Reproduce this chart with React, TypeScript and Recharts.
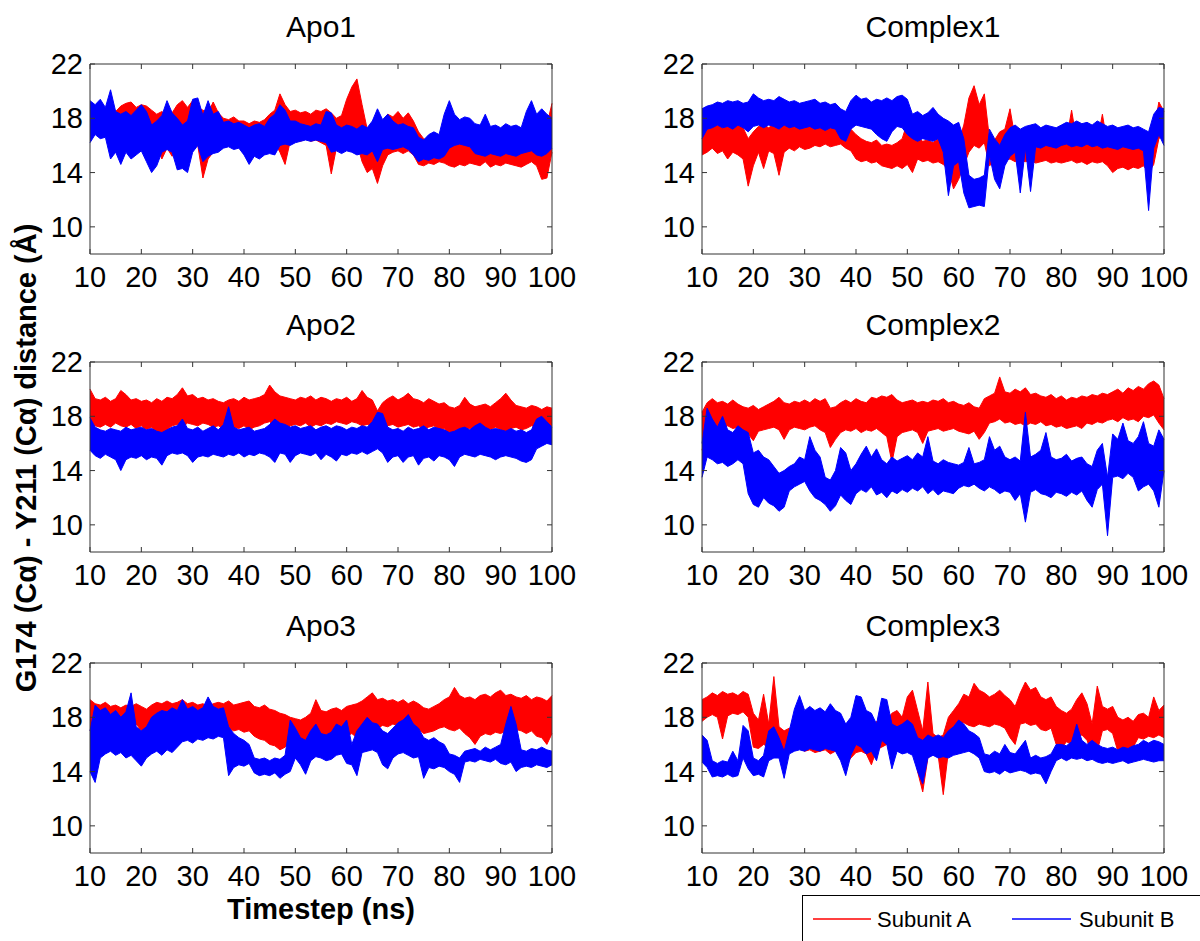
import React from 'react';
import { ComposedChart, Area, XAxis, YAxis, ReferenceArea } from 'recharts';

const RED = '#ff0000';
const BLUE = '#0000ff';
const AXIS = '#333333';
const FONT = '"Liberation Sans", Arial, sans-serif';

const timesteps = [
  10, 11, 12, 13, 14, 15, 16, 17, 18, 19, 20, 21, 22, 23, 24, 25, 26, 27, 28, 29,
  30, 31, 32, 33, 34, 35, 36, 37, 38, 39, 40, 41, 42, 43, 44, 45, 46, 47, 48, 49,
  50, 51, 52, 53, 54, 55, 56, 57, 58, 59, 60, 61, 62, 63, 64, 65, 66, 67, 68, 69,
  70, 71, 72, 73, 74, 75, 76, 77, 78, 79, 80, 81, 82, 83, 84, 85, 86, 87, 88, 89,
  90, 91, 92, 93, 94, 95, 96, 97, 98, 99, 100,
];
const xTicks = [10, 20, 30, 40, 50, 60, 70, 80, 90, 100];
const yTicks = [10, 14, 18, 22];

// low / high edge of each trace per ns
// Apo1
const apo1ALo = [
  16.8, 17.0, 16.6, 16.8, 16.3, 16.8, 16.5, 16.9, 16.7, 16.8,
  16.5, 16.3, 16.0, 16.2, 15.0, 15.8, 15.2, 16.0, 16.5, 16.3,
  16.2, 16.0, 13.6, 15.0, 15.5, 15.8, 15.9, 16.0, 15.8, 16.0,
  16.1, 16.0, 16.2, 16.0, 16.2, 16.0, 16.2, 15.5, 14.6, 16.3,
  16.4, 16.3, 16.5, 16.3, 16.4, 16.2, 16.0, 13.9, 15.8, 16.0,
  16.3, 16.5, 16.2, 14.8, 14.0, 14.3, 13.2, 14.5, 15.3, 15.5,
  15.6, 15.4, 15.6, 15.3, 14.6, 14.5, 14.7, 14.6, 14.8, 14.7,
  14.5, 14.4, 14.6, 14.5, 14.7, 14.6, 14.5, 14.8, 14.4, 14.6,
  14.5, 14.7, 14.6, 14.5, 14.4, 14.6, 14.8, 14.5, 13.5, 13.6, 15.5,
];
const apo1AHi = [
  19.0, 18.8, 18.9, 18.6, 18.8, 18.5, 18.9, 19.1, 19.2, 18.8,
  19.0, 18.9, 18.6, 18.3, 18.5, 18.2, 18.4, 19.0, 19.3, 18.8,
  19.3, 18.8, 18.6, 18.4, 19.2, 18.4, 18.0, 17.9, 18.1, 17.8,
  17.8, 17.6, 17.8, 17.7, 17.9, 18.3, 18.6, 19.8, 19.0, 18.5,
  18.6, 18.4, 18.5, 18.3, 18.6, 18.5, 18.7, 18.4, 18.0, 18.2,
  19.4, 20.3, 20.9, 19.0, 17.2, 17.0, 17.3, 17.8, 18.3, 18.1,
  18.5, 18.0, 18.4, 17.8, 17.0, 16.5, 16.3, 16.2, 16.4, 16.2,
  16.5, 16.8, 16.4, 16.2, 16.0, 16.2, 16.0, 16.1, 15.9, 16.2,
  16.0, 16.3, 16.0, 16.2, 16.5, 17.0, 18.5, 18.0, 17.2, 17.5, 19.1,
];
const apo1BLo = [
  16.2, 16.8, 16.5, 16.6, 15.0, 15.5, 14.6, 15.5, 15.0, 15.3,
  15.6, 14.8, 14.0, 14.5, 15.5, 15.7, 15.5, 14.2, 14.3, 14.0,
  15.5, 16.0, 14.8, 15.2, 15.4, 15.5, 15.8, 15.9, 15.7, 15.8,
  15.3, 14.6, 15.2, 15.0, 15.3, 15.4, 15.3, 16.0, 16.1, 16.0,
  16.2, 16.3, 16.4, 16.3, 16.4, 16.3, 16.2, 15.5, 15.6, 15.4,
  15.6, 15.5, 15.3, 15.4, 15.3, 15.6, 14.8, 15.7, 15.8, 15.7,
  15.8, 15.9, 15.7, 15.3, 14.8, 15.0, 14.9, 15.1, 15.0, 15.2,
  15.8, 16.0, 16.1, 16.0, 15.9, 15.4, 15.3, 15.2, 15.4, 15.3,
  15.2, 15.4, 15.3, 15.2, 15.4, 15.5, 15.6, 15.3, 15.2, 15.4, 15.8,
];
const apo1BHi = [
  19.3, 19.0, 19.4, 18.8, 20.1, 18.5, 18.3, 18.5, 18.2, 18.6,
  19.0, 18.5, 17.5, 17.8, 18.2, 19.3, 18.4, 18.0, 17.5, 17.8,
  19.4, 19.5, 18.2, 19.3, 18.3, 18.5, 17.7, 17.8, 17.6, 17.7,
  17.5, 17.3, 17.5, 17.6, 17.4, 18.0, 18.3, 19.0, 18.6, 17.8,
  17.8, 17.6, 17.5, 17.4, 17.6, 17.5, 18.5, 18.4, 17.5, 17.3,
  17.5, 17.4, 17.2, 17.5, 17.3, 17.8, 18.7, 17.9, 18.3, 17.8,
  17.5, 17.6, 17.4, 17.3, 16.6, 16.4, 16.8, 17.0, 16.8, 18.3,
  19.3, 18.3, 17.9, 18.1, 18.0, 17.6, 17.5, 18.3, 17.4, 17.5,
  17.3, 17.6, 17.4, 17.5, 17.3, 18.5, 19.3, 18.3, 18.7, 18.3, 18.0,
];

// Complex1
const cx1ALo = [
  15.3, 15.5, 15.8, 15.4, 15.6, 15.0, 15.5, 15.3, 15.0, 13.0,
  14.5, 15.5, 14.3, 15.6, 15.4, 13.8, 15.5, 15.8, 15.6, 15.9,
  15.7, 15.8, 16.0, 15.9, 16.1, 15.9, 16.0, 16.1, 15.8, 15.6,
  15.0, 14.8, 14.9, 14.7, 14.8, 14.5, 14.4, 14.3, 14.5, 14.3,
  14.6, 14.0, 15.0, 14.8, 14.9, 14.7, 14.8, 14.6, 14.2, 12.8,
  13.5, 14.5, 15.5, 16.0, 15.8, 16.2, 14.5, 14.8, 15.0, 14.9,
  15.0, 14.8, 14.9, 14.8, 14.9, 14.7, 14.8, 14.9, 14.7, 14.8,
  14.7, 14.8, 14.9, 14.7, 14.8, 14.6, 14.8, 14.7, 14.8, 14.5,
  14.0, 14.3, 14.4, 14.2, 14.4, 14.3, 14.5, 14.0, 14.6, 16.5, 16.8,
];
const cx1AHi = [
  18.5, 18.7, 17.8, 17.5, 17.3, 17.6, 17.4, 17.5, 17.3, 16.5,
  17.0, 17.4, 17.5, 17.3, 17.6, 17.2, 17.5, 17.6, 17.5, 17.7,
  17.6, 17.5, 17.8, 17.6, 17.8, 17.5, 17.7, 17.5, 17.3, 17.2,
  16.8, 16.5, 16.3, 16.2, 16.4, 16.0, 16.1, 16.0, 16.2, 16.5,
  17.7, 17.0, 16.6, 16.3, 16.4, 16.2, 16.5, 16.3, 16.2, 15.8,
  16.3, 17.5, 19.5, 20.4, 19.0, 19.8, 16.5, 16.4, 17.0, 17.2,
  18.7, 16.5, 16.2, 16.0, 16.1, 16.0, 15.9, 16.1, 16.0, 15.9,
  16.2, 16.4, 18.6, 16.3, 16.0, 16.2, 16.0, 16.3, 18.3, 16.0,
  16.1, 15.9, 16.0, 16.2, 15.9, 16.0, 16.1, 16.2, 17.0, 19.2, 18.5,
];
const cx1BLo = [
  16.5, 17.2, 17.3, 17.5, 17.3, 17.4, 17.2, 17.5, 17.3, 17.0,
  17.4, 17.5, 17.3, 17.5, 17.4, 17.2, 17.5, 17.3, 17.4, 17.2,
  17.3, 17.4, 17.2, 17.3, 17.1, 17.3, 17.2, 16.5, 16.3, 17.2,
  17.5, 17.4, 17.3, 17.2, 16.8, 16.5, 16.3, 17.0, 17.4, 17.3,
  16.8, 16.5, 16.3, 16.5, 16.4, 16.3, 16.5, 15.5, 12.3, 14.5,
  14.8, 12.5, 11.4, 11.5, 11.6, 11.5, 15.3, 13.5, 12.8, 14.5,
  15.2, 15.5, 12.5, 15.8, 12.6, 15.9, 15.8, 16.0, 15.9, 15.8,
  16.0, 16.1, 15.9, 16.0, 15.9, 16.1, 15.9, 16.0, 15.8, 15.9,
  15.8, 15.7, 15.9, 15.8, 15.7, 15.8, 15.6, 11.2, 15.8, 16.8, 16.0,
];
const cx1BHi = [
  18.7, 18.9, 19.0, 19.2, 19.1, 19.3, 19.2, 19.3, 19.1, 19.2,
  19.8, 19.5, 19.3, 19.4, 19.3, 19.6, 19.4, 19.2, 19.3, 19.1,
  19.2, 19.3, 19.4, 19.1, 19.2, 19.0, 19.1, 18.7, 18.5, 19.3,
  19.7, 19.4, 19.5, 19.2, 19.4, 19.3, 19.5, 19.3, 19.6, 19.7,
  19.4, 18.3, 18.5, 18.2, 18.4, 18.8, 18.3, 18.0, 17.8, 17.5,
  17.7, 16.5, 13.8, 13.5, 13.6, 13.8, 17.2, 16.5, 16.0, 16.8,
  17.3, 17.5, 17.2, 17.4, 17.5, 17.6, 17.3, 17.5, 17.4, 17.3,
  17.5, 17.7, 17.6, 17.8, 17.6, 17.7, 17.5, 17.8, 17.6, 17.4,
  17.5, 17.3, 17.4, 17.5, 17.3, 17.4, 17.2, 17.0, 18.3, 18.8, 18.7,
];

// Apo2
const apo2ALo = [
  17.0, 17.3, 17.2, 17.4, 17.2, 17.5, 17.3, 17.2, 17.4, 17.1,
  17.3, 17.0, 17.2, 16.8, 16.3, 17.0, 17.3, 17.4, 17.2, 17.5,
  17.4, 17.3, 17.5, 17.4, 17.2, 17.3, 17.1, 17.0, 17.2, 17.1,
  17.3, 17.0, 17.2, 17.3, 17.5, 17.6, 17.3, 17.2, 17.0, 17.3,
  17.4, 17.3, 17.5, 17.2, 17.4, 17.3, 17.5, 17.4, 17.6, 17.5,
  17.4, 17.6, 17.5, 17.3, 17.4, 17.3, 17.0, 16.8, 17.3, 17.4,
  17.2, 17.3, 17.4, 17.2, 17.3, 17.1, 17.2, 17.3, 17.0, 17.1,
  16.6, 16.2, 16.8, 17.0, 17.1, 17.0, 16.9, 17.1, 17.0, 17.2,
  17.0, 16.8, 17.1, 17.2, 17.0, 17.1, 17.3, 17.2, 17.3, 17.2, 17.3,
];
const apo2AHi = [
  20.0, 19.3, 19.2, 19.4, 19.1, 19.3, 19.9, 19.6, 19.2, 19.3,
  19.1, 19.2, 19.0, 19.3, 19.1, 19.4, 19.3, 19.6, 20.1, 19.5,
  19.6, 19.3, 19.4, 19.2, 19.3, 19.1, 19.0, 19.2, 19.3, 19.1,
  19.4, 19.2, 19.3, 19.4, 19.6, 20.3, 19.8, 19.5, 19.4, 19.3,
  19.2, 19.4, 19.3, 19.5, 19.2, 19.4, 19.3, 19.1, 19.3, 19.2,
  19.4, 19.1, 19.3, 19.9, 19.4, 19.2, 18.4, 19.0, 19.3, 19.5,
  19.2, 19.4, 19.7, 19.3, 19.2, 19.0, 19.3, 19.1, 18.9, 19.0,
  18.7, 18.6, 18.8, 19.4, 18.9, 18.7, 18.8, 18.9, 18.7, 19.0,
  19.3, 19.7, 19.2, 18.8, 18.7, 18.6, 18.8, 18.7, 18.5, 18.7, 18.6,
];
const apo2BLo = [
  15.5, 15.1, 14.9, 15.2, 15.0, 14.8, 14.0, 14.8, 15.0, 14.9,
  15.1, 14.8, 15.0, 14.9, 14.4, 15.1, 15.3, 15.2, 15.3, 15.1,
  14.6, 15.0, 15.1, 15.0, 15.2, 15.1, 15.0, 15.2, 15.1, 15.3,
  15.0, 15.2, 15.1, 15.3, 15.2, 15.0, 14.6, 15.3, 15.2, 14.6,
  15.1, 15.3, 15.2, 15.1, 15.3, 14.8, 15.2, 15.0, 14.7, 15.2,
  15.1, 15.3, 15.2, 15.4, 15.2, 15.4, 15.6, 15.3, 14.6, 15.0,
  15.1, 14.6, 15.0, 15.1, 14.4, 14.9, 15.0, 14.7, 15.1, 15.0,
  14.8, 14.3, 15.0, 15.2, 15.1, 15.0, 15.2, 15.1, 15.0, 14.8,
  15.0, 15.1, 15.0, 14.9, 14.7, 14.6, 14.8, 15.6, 15.8, 16.0, 15.9,
];
const apo2BHi = [
  17.9, 17.2, 17.0, 16.9, 17.1, 17.0, 16.9, 17.2, 17.0, 17.1,
  17.2, 17.0, 17.1, 16.9, 16.8, 17.0, 17.2, 17.3, 17.8, 17.1,
  17.0, 17.2, 16.9, 17.1, 17.3, 17.0, 17.4, 18.7, 17.2, 17.0,
  17.1, 17.2, 16.9, 17.0, 17.1, 17.4, 17.8, 17.5, 17.4, 17.2,
  17.3, 17.1, 17.2, 17.3, 17.0, 17.2, 17.3, 17.1, 17.3, 17.2,
  17.0, 17.2, 17.1, 17.3, 17.2, 17.6, 18.3, 18.2, 17.2, 17.0,
  17.1, 16.9, 17.2, 17.0, 17.1, 17.3, 17.0, 17.2, 17.1, 17.0,
  16.8, 16.9, 17.1, 17.2, 17.0, 17.3, 17.5, 17.2, 17.0, 17.1,
  17.0, 16.9, 17.1, 16.9, 17.0, 16.8, 17.0, 17.8, 18.0, 17.6, 17.2,
];

// Complex2
const cx2ALo = [
  15.5, 17.0, 17.3, 17.2, 17.0, 17.3, 17.1, 17.2, 16.8, 16.7,
  16.2, 16.9, 17.0, 17.1, 17.2, 17.0, 16.3, 17.0, 17.2, 17.1,
  17.0, 17.2, 17.3, 17.0, 16.8, 15.7, 16.3, 16.8, 17.0, 16.9,
  17.1, 16.8, 17.0, 16.9, 17.1, 16.8, 16.5, 14.6, 16.5, 16.8,
  16.9, 17.0, 16.8, 16.0, 16.9, 17.0, 17.1, 16.9, 17.0, 17.1,
  16.9, 16.8, 16.7, 16.9, 16.3, 16.8, 17.5, 17.6, 17.8, 17.5,
  17.6, 17.4, 17.5, 17.3, 17.5, 17.4, 17.6, 17.3, 17.4, 17.2,
  17.3, 17.1, 17.2, 17.3, 17.1, 17.5, 17.4, 17.6, 17.5, 17.7,
  17.8, 17.6, 17.9, 17.7, 17.8, 17.6, 18.0, 17.9, 18.1, 17.5, 17.0,
];
const cx2AHi = [
  18.3, 19.0, 19.3, 19.0, 19.1, 18.9, 19.2, 18.9, 18.7, 18.6,
  18.8, 18.5, 18.7, 18.9, 19.1, 19.4, 19.0, 18.9, 19.1, 19.0,
  19.2, 19.0, 19.3, 19.1, 19.3, 18.6, 18.7, 19.0, 19.2, 19.0,
  19.3, 19.1, 19.0, 19.4, 19.3, 19.5, 19.4, 19.6, 19.2, 19.0,
  19.1, 19.2, 19.0, 19.1, 19.0, 19.2, 19.1, 19.3, 19.0, 19.1,
  18.9, 18.8, 19.0, 18.7, 18.6, 19.3, 19.5, 19.7, 20.9, 19.8,
  19.7, 20.0, 19.8, 20.1, 19.6, 19.7, 19.5, 19.4, 19.6, 19.3,
  19.5, 19.2, 19.4, 19.3, 19.5, 19.4, 19.6, 19.5, 19.7, 19.6,
  19.8, 20.0, 19.7, 20.1, 19.9, 20.2, 20.0, 20.4, 20.6, 20.3, 19.3,
];
const cx2BLo = [
  13.5, 15.0, 14.8, 14.5, 14.6, 14.3, 14.5, 14.8, 14.5, 12.3,
  11.5, 11.3, 12.0, 11.6, 11.4, 11.0, 11.3, 12.5, 12.8, 13.0,
  13.2, 12.5, 12.0, 11.8, 11.5, 11.0, 11.4, 12.2, 11.8, 11.5,
  12.3, 12.6, 12.4, 12.8, 12.2, 12.4, 12.0, 12.5, 12.3, 12.6,
  12.4, 12.7, 12.5, 12.8, 12.3, 12.6, 12.2, 12.5, 12.4, 12.3,
  12.7, 12.9, 12.8, 13.0, 12.7, 12.5, 12.8, 12.6, 12.3, 12.5,
  12.4, 11.8, 12.3, 10.2, 12.4, 12.6, 12.3, 12.2, 12.0, 12.4,
  12.3, 12.1, 12.4, 12.2, 12.5, 11.8, 11.3, 12.6, 13.0, 9.2,
  13.5, 13.6, 13.4, 13.8, 13.5, 12.5, 12.8, 13.0, 12.5, 11.3, 14.0,
];
const cx2BHi = [
  16.0, 18.6, 17.8, 17.2, 18.0, 17.0, 16.8, 17.3, 17.0, 16.8,
  15.3, 15.5, 15.0, 14.8, 14.3, 13.8, 14.0, 14.3, 14.5, 15.0,
  14.8, 16.5, 15.5, 15.0, 13.5, 13.3, 14.0, 15.7, 15.3, 14.0,
  14.5, 15.2, 15.8, 15.0, 15.6, 14.8, 14.5, 15.0, 14.7, 14.9,
  15.1, 14.8, 15.3, 15.0, 16.5, 14.7, 14.5, 14.8, 14.6, 14.5,
  14.4, 14.6, 15.7, 14.5, 14.6, 14.8, 16.5, 15.5, 15.8, 15.0,
  14.8, 15.0, 14.7, 18.3, 15.0, 15.2, 15.5, 16.8, 15.0, 14.8,
  14.9, 15.2, 14.7, 14.9, 15.0, 14.5, 14.3, 15.5, 16.0, 13.5,
  16.7, 16.3, 17.5, 16.2, 16.0, 16.5, 17.6, 16.0, 15.8, 17.0, 16.3,
];

// Apo3
const apo3ALo = [
  17.0, 17.5, 17.3, 17.6, 17.4, 17.6, 17.5, 17.7, 17.3, 17.5,
  17.0, 16.0, 16.8, 17.5, 17.7, 17.6, 17.8, 17.7, 17.9, 17.8,
  17.7, 17.9, 17.8, 17.7, 17.9, 17.8, 17.6, 17.2, 17.0, 17.1,
  16.9, 17.0, 16.6, 16.4, 16.3, 16.0, 15.9, 15.6, 15.8, 16.2,
  16.0, 16.3, 16.0, 16.2, 16.1, 16.5, 16.4, 16.6, 16.5, 16.7,
  16.6, 16.8, 16.5, 15.8, 16.9, 17.3, 17.2, 17.4, 17.3, 17.5,
  17.4, 17.2, 16.5, 17.3, 17.1, 16.8, 16.9, 17.0, 17.2, 17.3,
  17.1, 17.0, 17.2, 16.8, 16.5, 16.0, 16.6, 16.8, 16.7, 16.9,
  16.8, 17.0, 16.7, 17.1, 17.0, 16.8, 17.0, 16.6, 16.5, 16.0, 16.8,
];
const apo3AHi = [
  19.3, 19.0, 18.9, 19.1, 18.8, 18.9, 18.7, 18.9, 18.8, 19.0,
  18.8, 18.6, 18.9, 19.1, 19.0, 19.2, 19.0, 19.1, 19.3, 19.0,
  19.1, 18.9, 19.0, 18.8, 19.0, 19.1, 19.0, 19.2, 18.9, 19.0,
  19.1, 19.2, 18.8, 18.7, 18.9, 18.6, 18.5, 18.3, 18.2, 18.0,
  17.9, 17.8, 18.0, 18.3, 19.3, 18.5, 18.4, 18.6, 18.7, 18.5,
  18.8, 18.9, 19.0, 19.2, 19.5, 19.8, 19.3, 19.4, 19.2, 19.3,
  19.1, 19.3, 19.0, 19.2, 19.0, 18.7, 18.6, 18.8, 19.0, 19.3,
  19.5, 20.2, 19.6, 19.4, 19.5, 19.3, 19.6, 19.7, 19.5, 19.8,
  20.0, 19.6, 19.7, 19.5, 19.4, 19.6, 19.3, 19.5, 19.4, 19.2, 19.6,
];
const apo3BLo = [
  14.0, 13.2, 15.0, 15.3, 15.5, 15.2, 15.4, 15.0, 15.2, 14.8,
  14.4, 15.0, 15.3, 15.5, 15.2, 15.6, 15.4, 15.8, 16.2, 16.3,
  16.1, 16.4, 16.3, 16.5, 16.4, 16.6, 16.5, 13.7, 14.3, 14.5,
  14.4, 14.6, 13.9, 13.7, 13.8, 13.7, 13.9, 13.5, 13.8, 14.0,
  15.0, 14.5, 13.8, 14.8, 15.1, 15.0, 14.8, 14.9, 15.2, 15.3,
  14.6, 14.5, 13.7, 15.4, 15.5, 15.6, 15.4, 14.5, 14.2, 15.0,
  15.3, 15.4, 15.2, 15.0, 15.1, 13.5, 14.3, 14.2, 14.4, 14.3,
  14.0, 13.8, 13.2, 14.7, 14.8, 14.7, 14.9, 14.8, 14.7, 14.9,
  14.6, 14.5, 14.7, 14.0, 14.3, 14.4, 14.3, 14.5, 14.4, 14.3, 14.5,
];
const apo3BHi = [
  17.0, 18.9, 18.5, 18.7, 18.2, 18.5, 18.0, 18.4, 19.8, 17.3,
  17.0, 17.3, 18.0, 18.3, 18.5, 18.4, 18.7, 18.5, 19.3, 18.6,
  18.8, 18.5, 18.7, 19.5, 18.8, 18.6, 18.7, 17.3, 16.8, 16.5,
  16.3, 16.0, 15.0, 14.9, 15.0, 14.8, 15.0, 14.9, 15.2, 17.8,
  17.2, 16.5, 16.3, 17.0, 17.5, 16.8, 16.7, 16.9, 17.5, 17.3,
  17.8, 16.0, 17.0, 17.5, 18.0, 17.6, 17.5, 17.0, 16.8, 17.2,
  17.6, 17.8, 18.2, 17.5, 17.2, 16.5, 16.3, 16.5, 16.2, 16.0,
  15.3, 15.2, 15.0, 15.5, 15.6, 15.7, 15.5, 15.8, 15.6, 15.8,
  16.0, 17.5, 18.8, 17.5, 15.6, 15.5, 15.7, 15.6, 15.8, 15.6, 15.5,
];

// Complex3
const cx3ALo = [
  17.7, 18.0, 18.2, 18.0, 16.4, 18.1, 18.3, 18.2, 18.4, 18.0,
  15.8, 15.7, 16.0, 15.8, 15.6, 15.0, 15.3, 15.8, 15.6, 15.7,
  15.5, 15.6, 15.4, 15.5, 15.6, 15.3, 15.5, 15.2, 14.5, 15.0,
  15.4, 15.5, 15.3, 14.5, 15.6, 15.8, 16.0, 16.0, 16.2, 16.3,
  17.0, 16.8, 14.0, 12.5, 15.0, 15.3, 15.2, 12.3, 15.5, 15.8,
  17.5, 17.6, 17.4, 17.3, 17.5, 17.4, 17.3, 17.5, 17.4, 17.2,
  16.5, 16.0, 17.5, 17.6, 17.4, 17.5, 17.1, 17.0, 17.2, 16.0,
  15.7, 16.2, 16.0, 16.5, 16.7, 16.3, 15.3, 15.5, 17.0, 17.1,
  16.8, 15.5, 15.6, 15.5, 15.8, 16.5, 16.4, 16.6, 16.5, 16.7, 16.5,
];
const cx3AHi = [
  19.3, 19.5, 19.8, 19.6, 19.9, 19.7, 19.8, 19.6, 19.9, 19.7,
  18.3, 17.8, 19.7, 17.5, 21.0, 17.3, 17.0, 17.2, 17.0, 17.3,
  17.5, 17.8, 17.6, 17.7, 17.5, 17.8, 17.6, 17.3, 17.0, 17.2,
  17.5, 17.3, 17.4, 17.2, 17.7, 17.5, 17.8, 18.3, 18.5, 18.0,
  19.5, 20.0, 18.5, 17.0, 20.6, 16.8, 16.5, 16.7, 18.0, 18.5,
  19.0, 19.7, 19.5, 20.5, 20.0, 19.8, 19.5, 19.7, 20.0, 19.6,
  19.3, 18.8, 19.8, 20.6, 20.0, 20.2, 19.5, 19.3, 19.5, 18.8,
  18.5, 18.3, 18.6, 19.3, 19.8, 19.0, 17.5, 20.3, 18.8, 18.6,
  18.8, 18.0, 17.8, 18.0, 17.7, 18.2, 18.3, 18.0, 19.5, 18.5, 18.9,
];
const cx3BLo = [
  14.7, 14.3, 13.6, 13.7, 13.6, 13.8, 13.6, 13.7, 15.0, 14.2,
  13.7, 13.8, 13.6, 14.8, 15.0, 15.0, 13.5, 15.3, 15.5, 15.6,
  15.5, 15.7, 15.6, 15.5, 15.7, 15.6, 15.5, 14.8, 13.7, 15.2,
  16.0, 15.8, 15.3, 15.5, 14.8, 16.3, 16.0, 14.2, 15.5, 15.3,
  15.4, 15.2, 14.0, 13.1, 15.0, 15.2, 15.0, 15.1, 15.0, 15.2,
  15.3, 15.4, 15.5, 15.3, 15.0, 14.0, 13.9, 14.0, 13.8, 14.1,
  13.9, 14.0, 14.1, 14.0, 13.8, 13.9, 13.8, 13.1, 14.0, 14.8,
  15.0, 14.8, 15.0, 14.9, 15.0, 14.8, 14.9, 14.7, 14.6, 14.7,
  14.6, 14.7, 14.8, 14.6, 14.7, 14.8, 14.9, 14.8, 14.7, 14.8, 14.8,
];
const cx3BHi = [
  16.7, 16.3, 14.8, 14.6, 14.8, 14.7, 15.5, 14.8, 17.4, 17.0,
  15.0, 14.8, 15.2, 17.0, 17.3, 16.5, 15.5, 17.0, 18.6, 19.6,
  18.5, 18.8, 18.5, 18.7, 18.4, 19.0, 18.5, 18.3, 17.5, 18.0,
  19.6, 19.5, 18.5, 18.3, 17.5, 19.4, 19.3, 17.5, 17.3, 17.5,
  17.8, 17.5, 16.5, 16.3, 16.7, 16.5, 16.7, 16.5, 17.0, 17.3,
  17.8, 17.5, 17.0, 16.8, 16.5, 15.3, 15.2, 15.5, 15.3, 16.0,
  15.4, 15.3, 15.8, 16.3, 15.0, 15.2, 15.0, 15.1, 15.3, 16.0,
  16.0, 15.9, 16.2, 17.5, 16.3, 16.0, 16.3, 16.0, 15.8, 15.7,
  15.8, 15.6, 15.8, 15.7, 15.9, 16.0, 16.3, 16.1, 16.3, 16.2, 16.0,
];

const PLOT_W = 462;
const PLOT_H = 190;
const Y_AXIS_W = 90;
const M_TOP = 24;
const M_RIGHT = 40;
const X_AXIS_H = 45;

/* eslint-disable @typescript-eslint/no-explicit-any */
function XTick(props: any) {
  const { x, y, payload } = props;
  return (
    <g>
      <line x1={x} x2={x} y1={y} y2={y - 5} stroke={AXIS} />
      <line x1={x} x2={x} y1={y - PLOT_H} y2={y - PLOT_H + 5} stroke={AXIS} />
      <text x={x} y={y + 33} textAnchor="middle" fontSize={29} fontFamily={FONT} fill="#000">
        {payload.value}
      </text>
    </g>
  );
}

function YTick(props: any) {
  const { x, y, payload } = props;
  return (
    <g>
      <line x1={x} x2={x + 5} y1={y} y2={y} stroke={AXIS} />
      <line x1={x + PLOT_W} x2={x + PLOT_W - 5} y1={y} y2={y} stroke={AXIS} />
      <text x={x - 7} y={y + 10} textAnchor="end" fontSize={29} fontFamily={FONT} fill="#000">
        {payload.value}
      </text>
    </g>
  );
}

interface PanelProps {
  left: number;
  top: number;
  aLo: number[];
  aHi: number[];
  bLo: number[];
  bHi: number[];
}

function Panel({ left, top, aLo, aHi, bLo, bHi }: PanelProps) {
  const data = timesteps.map((t, i) => ({
    t,
    a: [aLo[i], aHi[i]],
    b: [bLo[i], bHi[i]],
  }));
  return (
    <div style={{ position: 'absolute', left, top }}>
      <ComposedChart
        width={Y_AXIS_W + PLOT_W + M_RIGHT}
        height={M_TOP + PLOT_H + X_AXIS_H}
        data={data}
        margin={{ top: M_TOP, right: M_RIGHT, left: 0, bottom: 0 }}
        style={{ overflow: 'visible' }}
      >
        <XAxis
          dataKey="t"
          type="number"
          domain={[10, 100]}
          ticks={xTicks}
          interval={0}
          height={X_AXIS_H}
          axisLine={false}
          tickLine={false}
          tickSize={0}
          tickMargin={0}
          tick={(p: any) => <XTick {...p} />}
        />
        <YAxis
          type="number"
          domain={[8, 22]}
          ticks={yTicks}
          interval={0}
          width={Y_AXIS_W}
          axisLine={false}
          tickLine={false}
          tickSize={0}
          tickMargin={0}
          tick={(p: any) => <YTick {...p} />}
        />
        <Area
          type="linear"
          dataKey="a"
          stroke={RED}
          strokeWidth={1}
          fill={RED}
          fillOpacity={1}
          dot={false}
          activeDot={false}
          isAnimationActive={false}
        />
        <Area
          type="linear"
          dataKey="b"
          stroke={BLUE}
          strokeWidth={1}
          fill={BLUE}
          fillOpacity={1}
          dot={false}
          activeDot={false}
          isAnimationActive={false}
        />
        <ReferenceArea x1={10} x2={100} y1={8} y2={22} fill="none" fillOpacity={0} stroke={AXIS} strokeWidth={1} />
      </ComposedChart>
    </div>
  );
}

const panels = [
  { title: 'Apo1', col: 0, row: 0, aLo: apo1ALo, aHi: apo1AHi, bLo: apo1BLo, bHi: apo1BHi },
  { title: 'Complex1', col: 1, row: 0, aLo: cx1ALo, aHi: cx1AHi, bLo: cx1BLo, bHi: cx1BHi },
  { title: 'Apo2', col: 0, row: 1, aLo: apo2ALo, aHi: apo2AHi, bLo: apo2BLo, bHi: apo2BHi },
  { title: 'Complex2', col: 1, row: 1, aLo: cx2ALo, aHi: cx2AHi, bLo: cx2BLo, bHi: cx2BHi },
  { title: 'Apo3', col: 0, row: 2, aLo: apo3ALo, aHi: apo3AHi, bLo: apo3BLo, bHi: apo3BHi },
  { title: 'Complex3', col: 1, row: 2, aLo: cx3ALo, aHi: cx3AHi, bLo: cx3BLo, bHi: cx3BHi },
];

const boxLefts = [90, 702];
const boxTops = [64, 362, 663];

export default function App() {
  return (
    <div
      style={{
        position: 'absolute',
        left: 0,
        top: 0,
        width: 1200,
        height: 941,
        background: '#fff',
        overflow: 'hidden',
        fontFamily: FONT,
      }}
    >
      {panels.map((p) => (
        <Panel
          key={p.title}
          left={boxLefts[p.col] - Y_AXIS_W}
          top={boxTops[p.row] - M_TOP}
          aLo={p.aLo}
          aHi={p.aHi}
          bLo={p.bLo}
          bHi={p.bHi}
        />
      ))}
      <svg
        width={1200}
        height={941}
        style={{ position: 'absolute', left: 0, top: 0, pointerEvents: 'none' }}
        fontFamily={FONT}
      >
        {panels.map((p) => (
          <text
            key={p.title}
            x={boxLefts[p.col] + PLOT_W / 2}
            y={boxTops[p.row] - 27}
            textAnchor="middle"
            fontSize={30}
            fill="#000"
          >
            {p.title}
          </text>
        ))}
        <text
          x={36}
          y={458}
          transform="rotate(-90 36 458)"
          textAnchor="middle"
          fontSize={29}
          fontWeight="bold"
          fill="#000"
        >
          G174 (Cα) - Y211 (Cα) distance (Å)
        </text>
        <text x={321} y={919} textAnchor="middle" fontSize={29} fontWeight="bold" fill="#000">
          Timestep (ns)
        </text>
        <rect x={802.5} y={895.5} width={420} height={80} fill="#fff" stroke="#000" strokeWidth={1} />
        <line x1={813} x2={871} y1={919} y2={919} stroke={RED} strokeWidth={1.5} />
        <text x={877} y={927} fontSize={22} fill="#000">
          Subunit A
        </text>
        <line x1={1012} x2={1071} y1={919} y2={919} stroke={BLUE} strokeWidth={1.5} />
        <text x={1079} y={927} fontSize={22} fill="#000">
          Subunit B
        </text>
      </svg>
    </div>
  );
}
